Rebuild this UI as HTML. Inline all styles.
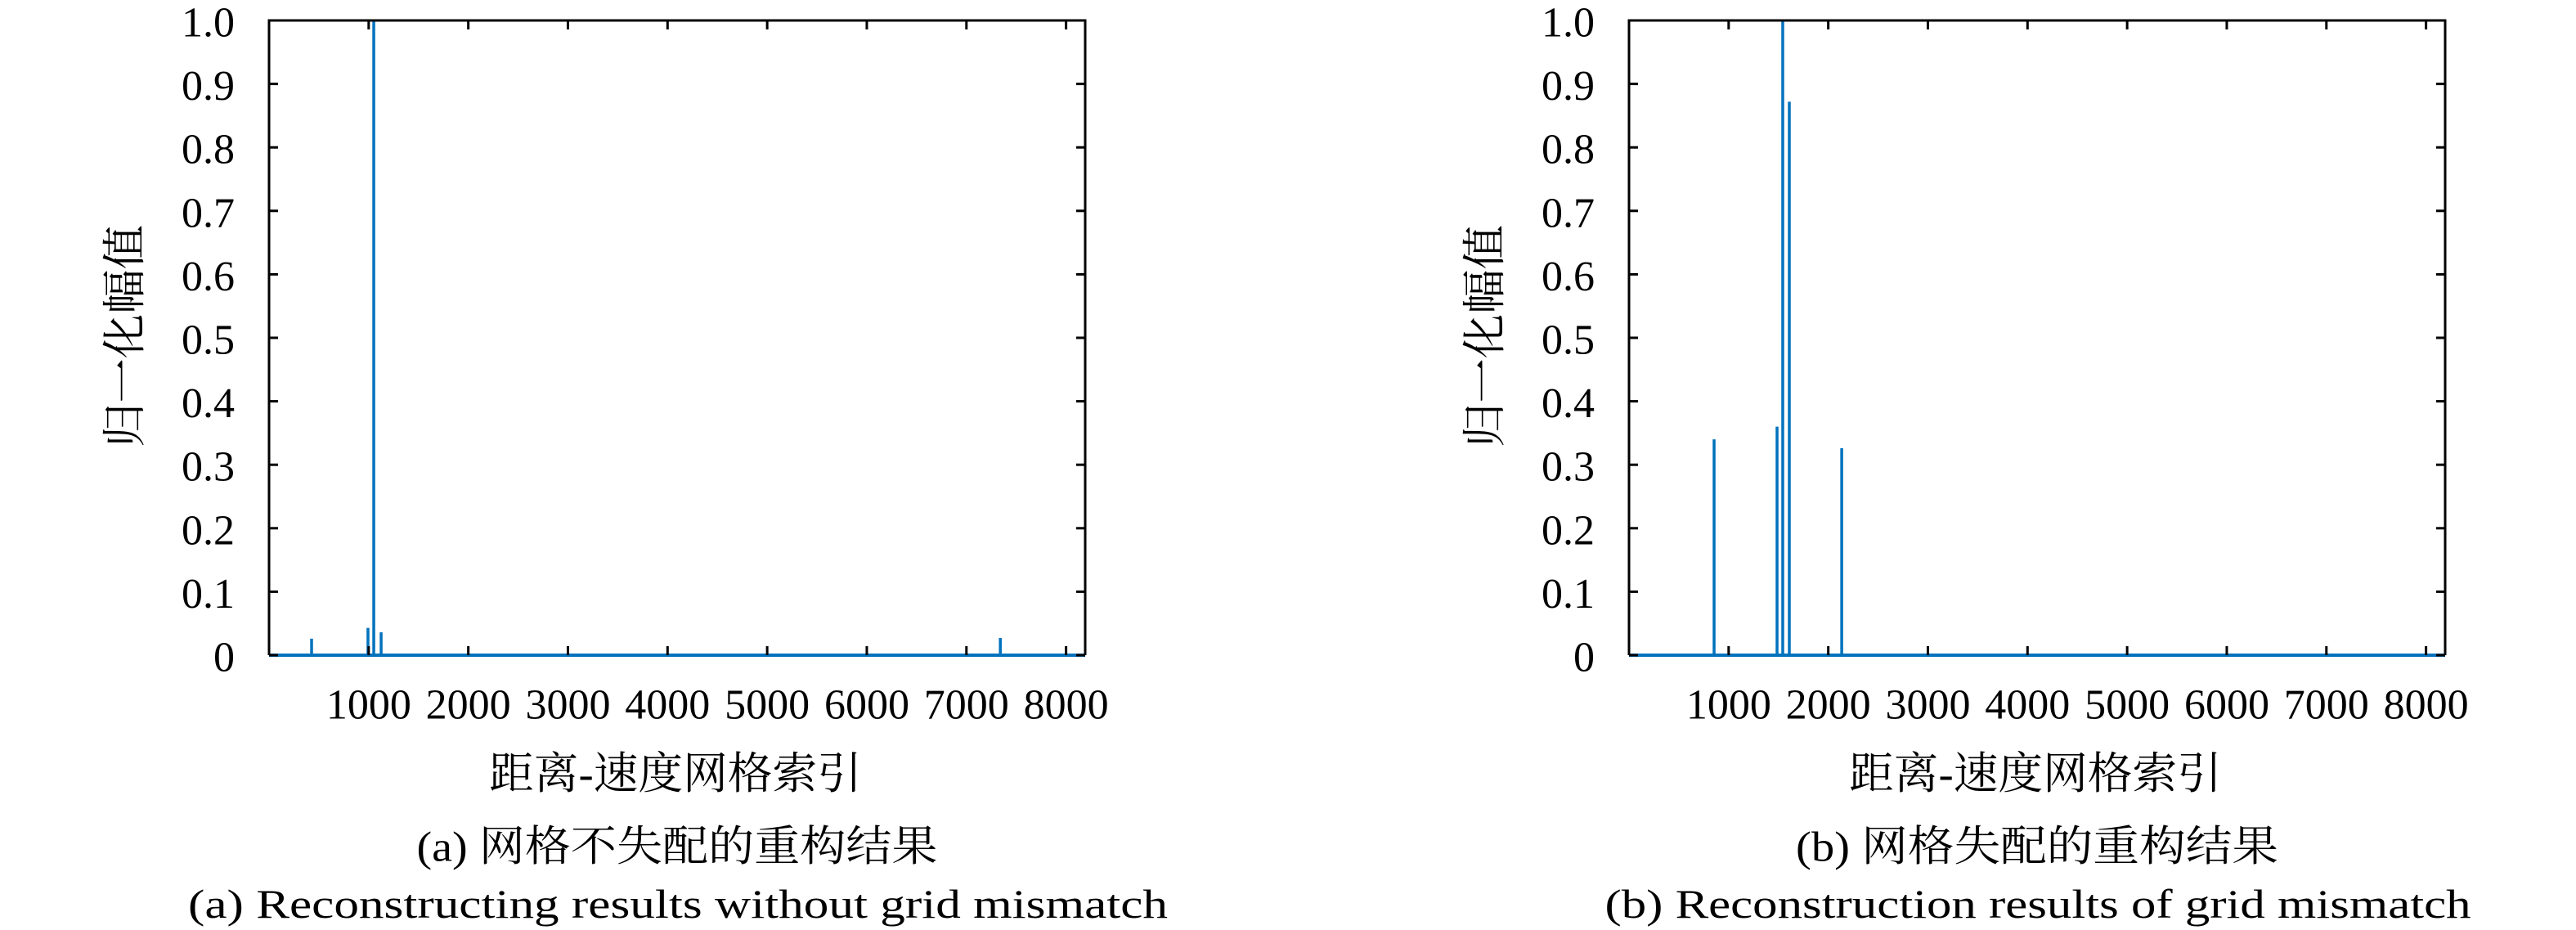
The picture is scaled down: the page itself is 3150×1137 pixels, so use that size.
<!DOCTYPE html>
<html><head><meta charset="utf-8"><style>
html,body{margin:0;padding:0;background:#fff;}
svg{display:block;}
text{font-family:"Liberation Serif","Noto Serif CJK SC","Noto Sans CJK SC",serif;fill:#000;}
</style></head><body>
<svg id="fig" width="3150" height="1137" viewBox="0 0 3150 1137" xmlns="http://www.w3.org/2000/svg"></svg>
<script>
// chart (a) data
const aIndex = [427, 993, 1051, 1125, 7340];
const aValue = [0.026, 0.043, 1.0, 0.036, 0.027];
// chart (b) data
const bIndex = [854, 1486, 1543, 1609, 2135];
const bValue = [0.34, 0.36, 1.0, 0.872, 0.326];
const xTicks = [1000, 2000, 3000, 4000, 5000, 6000, 7000, 8000];
const xTickLabels = ["1000", "2000", "3000", "4000", "5000", "6000", "7000", "8000"];
const yTicks = [0, 0.1, 0.2, 0.3, 0.4, 0.5, 0.6, 0.7, 0.8, 0.9, 1.0];
const yTickLabels = ["0", "0.1", "0.2", "0.3", "0.4", "0.5", "0.6", "0.7", "0.8", "0.9", "1.0"];
const xMax = 8192;

const NS = "http://www.w3.org/2000/svg";
const svg = document.getElementById('fig');
function mk(tag, attrs, parent) {
  const e = document.createElementNS(NS, tag);
  for (const k in attrs) e.setAttribute(k, attrs[k]);
  parent.appendChild(e);
  return e;
}

function drawPanel(id, left, idx, vals, cnCap, cnW, enCap, enW) {
  const right = left + 998, top = 25, bottom = 801;
  const xs = v => left + (v / xMax) * (right - left);
  const ys = v => bottom - v * (bottom - top);
  const g = mk('g', {}, svg);
  
  

  // spikes
  for (let i = 0; i < idx.length; i++) {
    const l = mk('line', {x1: xs(idx[i]), x2: xs(idx[i]), y1: ys(0), y2: ys(vals[i]), stroke: '#0072BD', 'stroke-width': 3.5}, g);
    
    
  }
  // zero line
  const zl = mk('line', {x1: left, x2: right, y1: bottom, y2: bottom, stroke: '#0072BD', 'stroke-width': 4}, g);
  
  

  // axes box (left, top, right)
  const box = mk('path', {d: `M${left},${bottom} L${left},${top} L${right},${top} L${right},${bottom}`, fill: 'none', stroke: '#000', 'stroke-width': 3}, g);
  
  

  // x ticks
  for (let i = 0; i < xTicks.length; i++) {
    const x = xs(xTicks[i]);
    mk('line', {x1: x, x2: x, y1: bottom, y2: bottom - 11, stroke: '#000', 'stroke-width': 3}, g);
    mk('line', {x1: x, x2: x, y1: top, y2: top + 11, stroke: '#000', 'stroke-width': 3}, g);
    const t = mk('text', {x: x, y: 862, 'text-anchor': 'middle', 'dominant-baseline': 'central', 'font-size': 52}, g);
    t.textContent = xTickLabels[i];
    
    
  }
  // y ticks
  for (let i = 0; i < yTicks.length; i++) {
    const y = ys(yTicks[i]);
    mk('line', {x1: left, x2: left + 11, y1: y, y2: y, stroke: '#000', 'stroke-width': 3}, g);
    mk('line', {x1: right, x2: right - 11, y1: y, y2: y, stroke: '#000', 'stroke-width': 3}, g);
    const t = mk('text', {x: left - 42, y: y + 3, 'text-anchor': 'end', 'dominant-baseline': 'central', 'font-size': 52}, g);
    t.textContent = yTickLabels[i];
    
    
  }
  // y axis title
  const yt = mk('text', {x: 0, y: 0, 'text-anchor': 'middle', 'dominant-baseline': 'central', 'font-size': 54, textLength: 272, lengthAdjust: 'spacingAndGlyphs', transform: `translate(${left - 176},411) rotate(-90)`}, g);
  yt.textContent = '归一化幅值';
  
  
  // x axis title
  const xt = mk('text', {x: left + 497, y: 946, 'text-anchor': 'middle', 'dominant-baseline': 'central', 'font-size': 54, textLength: 456, lengthAdjust: 'spacingAndGlyphs'}, g);
  xt.textContent = '距离-速度网格索引';
  
  
  // captions
  const c1 = mk('text', {x: left + 499, y: 1036, 'text-anchor': 'middle', 'dominant-baseline': 'central', 'font-size': 52, textLength: cnW, lengthAdjust: 'spacingAndGlyphs'}, g);
  c1.textContent = cnCap;
  
  
  const c2 = mk('text', {x: left + 500, y: 1122, 'text-anchor': 'middle', 'font-size': 50, textLength: enW, lengthAdjust: 'spacingAndGlyphs'}, g);
  c2.textContent = enCap;
  
  
}

drawPanel('a', 329, aIndex, aValue, '(a) 网格不失配的重构结果', 637, '(a) Reconstructing results without grid mismatch', 1198);
drawPanel('b', 1992, bIndex, bValue, '(b) 网格失配的重构结果', 590, '(b) Reconstruction results of grid mismatch', 1059);
</script>
</body></html>
